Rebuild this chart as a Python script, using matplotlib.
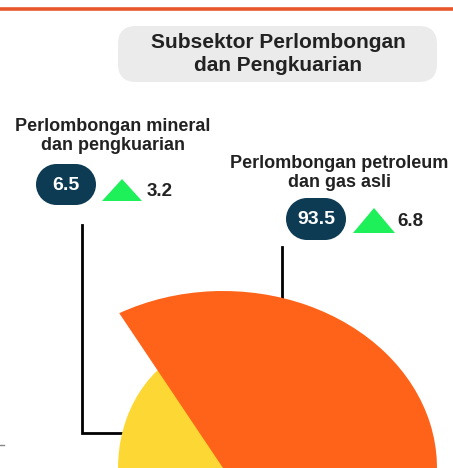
import matplotlib
matplotlib.use('Agg')
import matplotlib.pyplot as plt
from matplotlib.patches import FancyBboxPatch, Polygon, Rectangle, Circle
from matplotlib.transforms import Affine2D

plt.rcParams['font.family'] = ['Liberation Sans', 'DejaVu Sans']

# data
title = 'Subsektor Perlombongan\ndan Pengkuarian'
labels = ['Perlombongan mineral\ndan pengkuarian', 'Perlombongan petroleum\ndan gas asli']
values = [6.5, 93.5]
changes = [3.2, 6.8]
# slice shares as they appear in the (cropped) picture
pie_share = [42, 58]
colors = ['#FDD835', '#FF6319']

W, H = 453, 468
fig = plt.figure(figsize=(W / 100, H / 100), dpi=100)

# annotation layer in pixel coords
ax = fig.add_axes([0, 0, 1, 1])
ax.set_xlim(0, W)
ax.set_ylim(H, 0)
ax.axis('off')

ax.plot([0, W], [8.5, 8.5], color='#E8572A', lw=2.6, solid_capstyle='butt')
ax.plot([0, 4], [445, 445], color='#888888', lw=1)

# title box
ax.add_patch(FancyBboxPatch((118, 26), 319, 56, boxstyle='round,pad=0,rounding_size=18',
                            fc='#EBEBEB', ec='none'))
ax.text(278, 54, title, ha='center', va='center', fontsize=15, fontweight='bold',
        color='#222222', linespacing=1.25)

# leader lines
ax.plot([82, 82, 124], [225, 433, 433], color='black', lw=2, solid_joinstyle='miter')
ax.plot([282, 282], [247, 305], color='black', lw=2)

label_xy = [(113, 136), (339, 173)]
pill_xy = [(36, 164, 60, 41), (286, 198, 60, 42)]
tri_xy = [(102, 142, 179, 201), (353, 395, 208, 233)]
chg_x = [147, 397]

for i in range(2):
    lx, ly = label_xy[i]
    ax.text(lx, ly, labels[i], ha='center', va='center', fontsize=13, fontweight='bold',
            color='#222222', linespacing=1.2)
    # stadium-shaped pill
    px, py, pw, ph = pill_xy[i]
    r = ph / 2
    ax.add_patch(Rectangle((px + r, py), pw - 2 * r, ph, fc='#0D3B53', ec='none'))
    ax.add_patch(Circle((px + r, py + r), r, fc='#0D3B53', ec='none'))
    ax.add_patch(Circle((px + pw - r, py + r), r, fc='#0D3B53', ec='none'))
    ax.text(px + pw / 2, py + ph / 2 + 1, f'{values[i]}', ha='center', va='center',
            fontsize=14, fontweight='bold', color='white', zorder=5)
    x0, x1, y0, y1 = tri_xy[i]
    ax.add_patch(Polygon([(x0, y1), (x1, y1), ((x0 + x1) / 2, y0)], closed=True,
                         fc='#1EF05A', ec='none'))
    ax.text(chg_x[i], (y0 + y1) / 2 + 1, f'{changes[i]}', ha='left', va='center',
            fontsize=13.5, fontweight='bold', color='#222222')

# pie layer (stretched, centre at the bottom edge)
pax = fig.add_axes([0, 0, 1, 1])
pax.patch.set_alpha(0)
wedges, _ = pax.pie(pie_share, colors=colors, startangle=119, counterclock=True,
                    wedgeprops=dict(linewidth=0))
wedges[0].set_transform(Affine2D().scale(105 / 214, 125 / 177) + pax.transData)
pax.set_aspect('auto')
pax.set_xlim(-223 / 214, (W - 223) / 214)
pax.set_ylim(0, H / 177)
pax.axis('off')

fig.savefig('out.png', dpi=100)
